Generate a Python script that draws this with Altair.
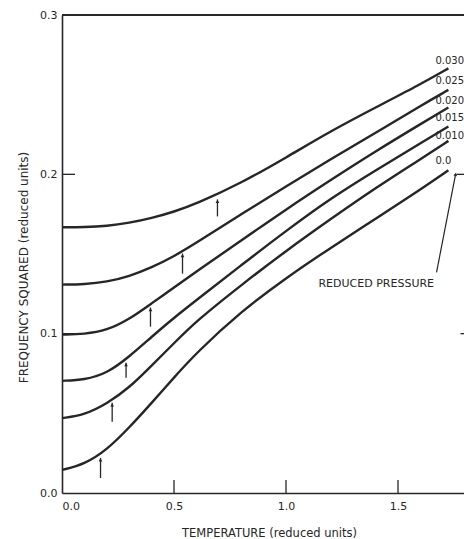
import altair as alt
import pandas as pd

# ---- data ----
temperature = [0, 0.1, 0.2, 0.3, 0.4, 0.5, 0.6, 0.8, 1.0, 1.2, 1.4, 1.6, 1.725]

pressures = ["0.030", "0.025", "0.020", "0.015", "0.010", "0.0"]
freq_030 = [0.1668, 0.1668, 0.1675, 0.1695, 0.1725, 0.1765, 0.1815, 0.1945, 0.2105, 0.2272, 0.2420, 0.2565, 0.2665]
freq_025 = [0.1308, 0.1310, 0.1325, 0.1360, 0.1415, 0.1485, 0.1570, 0.1750, 0.1925, 0.2095, 0.2260, 0.2430, 0.2530]
freq_020 = [0.0994, 0.0997, 0.1020, 0.1090, 0.1190, 0.1290, 0.1390, 0.1585, 0.1780, 0.1965, 0.2145, 0.2315, 0.2420]
freq_015 = [0.0704, 0.0710, 0.0750, 0.0855, 0.0980, 0.1100, 0.1210, 0.1430, 0.1645, 0.1850, 0.2025, 0.2195, 0.2300]
freq_010 = [0.0470, 0.0490, 0.0560, 0.0660, 0.0800, 0.0940, 0.1080, 0.1305, 0.1520, 0.1720, 0.1915, 0.2095, 0.2210]
freq_000 = [0.0145, 0.0180, 0.0270, 0.0410, 0.0565, 0.0725, 0.0880, 0.1140, 0.1350, 0.1540, 0.1720, 0.1904, 0.2025]

# small arrows marking points on each curve
arrow_t = [0.694, 0.538, 0.395, 0.286, 0.224, 0.172]
arrow_tip = [0.1843, 0.1503, 0.1164, 0.0818, 0.0566, 0.0220]
arrow_base = [0.1736, 0.1377, 0.1044, 0.0723, 0.0447, 0.0094]

# curve labels at right end
label_t = [1.667] * 6
label_f = [0.2711, 0.2585, 0.2459, 0.2352, 0.2239, 0.2082]

# annotation
note_text = ["REDUCED PRESSURE"]
note_t = [1.145]
note_f = [0.1314]
leader_t = [1.672]
leader_f = [0.1384]
leader_t2 = [1.757]
leader_f2 = [0.2000]

x_tick_values = [0.5, 1.0, 1.5]
y_tick_values = [0.1, 0.2]
right_tick_f = [0.1, 0.2]
right_tick_t = [1.779, 1.761]

# ---- build tables ----
series = [freq_030, freq_025, freq_020, freq_015, freq_010, freq_000]
rows = []
for p, ys in zip(pressures, series):
    for t, v in zip(temperature, ys):
        rows.append({"pressure": p, "T": t, "F": v})
curves_df = pd.DataFrame(rows)
arrows_df = pd.DataFrame({"T": arrow_t, "tip": arrow_tip, "base": arrow_base})
labels_df = pd.DataFrame({"T": label_t, "F": label_f, "text": pressures})
note_df = pd.DataFrame({"T": note_t, "F": note_f, "text": note_text})
leader_df = pd.DataFrame({"T": leader_t, "F": leader_f, "T2": leader_t2, "F2": leader_f2})
xt_df = pd.DataFrame({"v": x_tick_values})
yt_df = pd.DataFrame({"v": y_tick_values})
rt_df = pd.DataFrame({"T": right_tick_t, "F": right_tick_f})

W, H = 402, 478
FONT = "DejaVu Sans"
INK = "#262626"
xscale = alt.Scale(domain=[0, W / 224.0], nice=False, zero=False)
yscale = alt.Scale(domain=[0, 0.3], nice=False, zero=False)

x_axis = alt.Axis(values=[0.0, 0.5, 1.0, 1.5], format=".1f", ticks=False, grid=False,
                  domainColor=INK, domainWidth=1.6, labelPadding=7, labelFont=FONT,
                  labelFontSize=11, labelColor=INK, title="TEMPERATURE (reduced units)",
                  titleFont=FONT, titleFontSize=11.5, titleFontWeight="normal", titleColor=INK,
                  titleX=207, titleY=40, titleAlign="center", titleBaseline="middle")
y_axis = alt.Axis(values=[0.0, 0.1, 0.2, 0.3], format=".1f", ticks=False, grid=False,
                  domainColor=INK, domainWidth=1.6, labelPadding=5, labelFont=FONT,
                  labelFontSize=11, labelColor=INK, title="FREQUENCY SQUARED (reduced units)",
                  titleFont=FONT, titleFontSize=12, titleFontWeight="normal", titleColor=INK,
                  titleX=-39, titleY=252, titleAngle=270, titleAlign="center", titleBaseline="middle")


def X(field):
    return alt.X(field, type="quantitative", scale=xscale, axis=x_axis)


def Y(field):
    return alt.Y(field, type="quantitative", scale=yscale, axis=y_axis)


lines = alt.Chart(curves_df).mark_line(interpolate="basis", color=INK, strokeWidth=2.4).encode(
    x=X("T"), y=Y("F"), detail="pressure:N",
)

arrow_shafts = alt.Chart(arrows_df).mark_rule(color=INK, strokeWidth=1.3).encode(
    x=X("T"), y=Y("base"), y2="tip:Q",
)
arrow_heads = alt.Chart(arrows_df).mark_point(shape="triangle-up", filled=True, size=14,
                                              color=INK, opacity=1, yOffset=2).encode(
    x=X("T"), y=Y("tip"),
)

labels = alt.Chart(labels_df).mark_text(align="left", baseline="middle", font=FONT,
                                        fontSize=10, color=INK).encode(
    x=X("T"), y=Y("F"), text="text:N",
)

note = alt.Chart(note_df).mark_text(align="left", baseline="middle", font=FONT,
                                    fontSize=11, color=INK).encode(
    x=X("T"), y=Y("F"), text="text:N",
)

leader = alt.Chart(leader_df).mark_rule(color=INK, strokeWidth=1.2).encode(
    x=X("T"), y=Y("F"), x2="T2:Q", y2="F2:Q",
)
leader_head = alt.Chart(leader_df).mark_point(shape="triangle-up", filled=True, size=14,
                                              color=INK, opacity=1, angle=11).encode(
    x=X("T2"), y=Y("F2"),
)

top_frame = alt.Chart(xt_df).mark_rule(color=INK, strokeWidth=1.4).encode(
    x=alt.value(0), x2=alt.value(W), y=alt.value(0)
)

x_ticks = alt.Chart(xt_df).mark_rule(color=INK, strokeWidth=1.3).encode(
    x=X("v"), y=alt.value(H), y2=alt.value(H - 13),
)
y_ticks = alt.Chart(yt_df).mark_rule(color=INK, strokeWidth=1.3).encode(
    y=Y("v"), x=alt.value(0), x2=alt.value(13),
)
right_ticks = alt.Chart(rt_df).mark_rule(color=INK, strokeWidth=1.3).encode(
    y=Y("F"), x=X("T"), x2=alt.value(W),
)

chart = alt.layer(
    lines, arrow_shafts, arrow_heads, labels, note, leader, leader_head,
    top_frame, x_ticks, y_ticks, right_ticks,
).properties(
    width=W, height=H,
    padding={"left": 54, "top": 7, "right": 0, "bottom": 46},
    autosize=alt.AutoSizeParams(type="none"),
    background="white",
).configure_view(stroke=None)

chart.save("out.html", embed_options={"renderer": "svg", "actions": False})
